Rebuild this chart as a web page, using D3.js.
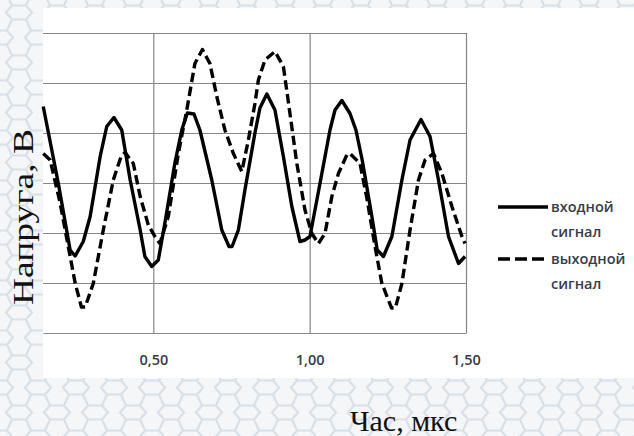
<!DOCTYPE html>
<html>
<head>
<meta charset="utf-8">
<script src="https://cdn.jsdelivr.net/npm/d3@7"></script>
<style>
  html, body { margin: 0; padding: 0; background: #fff; }
  svg { display: block; }
</style>
</head>
<body>
<svg id="chart" width="634" height="436"></svg>
<script>
// Input signal (входной сигнал): time, µs and voltage, V
const timeIn = [0.148, 0.196, 0.234, 0.250, 0.276, 0.298, 0.330, 0.351, 0.374, 0.399,
  0.426, 0.458, 0.473, 0.495, 0.516, 0.537, 0.569, 0.591, 0.609, 0.630,
  0.649, 0.687, 0.719, 0.742, 0.752, 0.772, 0.793, 0.825, 0.841, 0.863,
  0.889, 0.916, 0.943, 0.969, 0.985, 1.001, 1.033, 1.065, 1.081, 1.103,
  1.129, 1.148, 1.168, 1.199, 1.216, 1.236, 1.263, 1.295, 1.321, 1.356,
  1.385, 1.412, 1.444, 1.476, 1.497];
const voltIn = [1.53, 0.00, -1.34, -1.46, -1.17, -0.67, 0.53, 1.13, 1.31, 1.06,
  0.06, -0.94, -1.47, -1.67, -1.54, -0.80, 0.40, 1.06, 1.40, 1.38,
  1.06, 0.06, -0.94, -1.27, -1.27, -0.94, -0.14, 1.00, 1.50, 1.78,
  1.46, 0.53, -0.47, -1.17, -1.14, -1.07, -0.01, 1.06, 1.46, 1.65,
  1.39, 1.06, 0.46, -0.67, -1.34, -1.47, -1.07, 0.06, 0.86, 1.27,
  0.93, 0.06, -1.07, -1.61, -1.47];

// Output signal (выходной сигнал)
const timeOut = [0.148, 0.170, 0.202, 0.228, 0.250, 0.270, 0.282, 0.308, 0.340, 0.372,
  0.398, 0.410, 0.436, 0.458, 0.484, 0.505, 0.521, 0.548, 0.580, 0.607,
  0.633, 0.657, 0.681, 0.703, 0.729, 0.756, 0.783, 0.804, 0.825, 0.836,
  0.857, 0.889, 0.916, 0.937, 0.959, 0.985, 1.007, 1.028, 1.049, 1.071,
  1.092, 1.119, 1.129, 1.161, 1.184, 1.209, 1.231, 1.262, 1.274, 1.295,
  1.321, 1.348, 1.369, 1.396, 1.423, 1.455, 1.487, 1.497];
const voltOut = [0.59, 0.46, -0.40, -1.27, -2.00, -2.48, -2.48, -2.01, -0.94, 0.06,
  0.55, 0.61, 0.39, -0.27, -0.84, -1.07, -1.21, -0.67, 0.59, 1.46,
  2.39, 2.67, 2.39, 1.73, 1.06, 0.59, 0.23, 0.86, 1.59, 2.06,
  2.46, 2.63, 2.33, 1.39, 0.39, -0.54, -1.01, -1.21, -1.01, -0.27,
  0.19, 0.56, 0.59, 0.39, -0.34, -1.27, -2.01, -2.50, -2.50, -2.01,
  -0.94, 0.06, 0.46, 0.59, 0.19, -0.47, -1.07, -1.21];

const xTicks = [0.5, 1.0, 1.5];
const yTicks = [-2, -1, 0, 1, 2, 3];
const seriesNames = [["входной", "сигнал"], ["выходной", "сигнал"]];
const xTitle = "Час, мкс";
const yTitle = "Напруга, В";

const svg = d3.select("#chart");
const defs = svg.append("defs");

// Decorative lattice backdrop
const tileW = 38, tileH = 50;
const pat = defs.append("pattern")
  .attr("id", "lattice")
  .attr("patternUnits", "userSpaceOnUse")
  .attr("width", tileW).attr("height", tileH);
pat.append("rect").attr("width", tileW).attr("height", tileH).attr("fill", "#f4f6f8");
const hexPath = (cx, cy) =>
  `M${cx - 13},${cy}L${cx - 7},${cy - 7}L${cx + 7},${cy - 7}L${cx + 13},${cy}` +
  `L${cx + 7},${cy + 7}L${cx - 7},${cy + 7}Z`;
let latticeD = "";
for (let r = -2; r <= 4; r++) {
  for (let c = -1; c <= 2; c++) {
    const cx = c * tileW + (r % 2 === 0 ? tileW / 2 : 0);
    const cy = r * (tileH / 2) + tileH / 4;
    latticeD += hexPath(cx, cy);
    // diagonal links to the two cells of the next row
    latticeD += `M${cx + 7},${cy + 7}L${cx + tileW / 2 - 7},${cy + tileH / 2 - 7}`;
    latticeD += `M${cx - 7},${cy + 7}L${cx - tileW / 2 + 7},${cy + tileH / 2 - 7}`;
  }
}
pat.append("path").attr("d", latticeD)
  .attr("fill", "none").attr("stroke", "#d9e0e6").attr("stroke-width", 2.2);

svg.append("rect").attr("width", 634).attr("height", 436).attr("fill", "url(#lattice)");

// White chart panel
svg.append("rect").attr("x", 43).attr("y", 8).attr("width", 591).attr("height", 370).attr("fill", "#fff");

const plot = { left: 43, right: 466, top: 33, bottom: 333 };
const x = d3.scaleLinear().domain([0.1472, 1.5]).range([plot.left, plot.right]);
const y = d3.scaleLinear().domain([-3, 3]).range([plot.bottom, plot.top]);

const gridColor = "#868686";

// Horizontal gridlines
svg.append("g")
  .attr("transform", `translate(${plot.left},0)`)
  .call(d3.axisLeft(y).tickValues(yTicks).tickSize(-(plot.right - plot.left)).tickFormat(""))
  .call(g => g.select(".domain").remove())
  .call(g => g.selectAll(".tick line").attr("stroke", gridColor).attr("stroke-width", 1.2));

// Vertical gridlines
svg.append("g")
  .attr("transform", `translate(0,${plot.bottom})`)
  .call(d3.axisBottom(x).tickValues(xTicks).tickSize(-(plot.bottom - plot.top)).tickFormat(""))
  .call(g => g.select(".domain").remove())
  .call(g => g.selectAll(".tick line").attr("stroke", gridColor).attr("stroke-width", 1.2));

// Bottom axis with labels
const fmt = d3.format(".2f");
svg.append("g")
  .attr("transform", `translate(0,${plot.bottom})`)
  .call(d3.axisBottom(x).tickValues(xTicks).tickSize(0).tickPadding(0)
    .tickFormat(d => fmt(d).replace(".", ",")))
  .call(g => g.select(".domain").attr("stroke", gridColor).attr("stroke-width", 1.2))
  .call(g => g.selectAll(".tick text")
    .attr("dy", null).attr("y", 32)
    .attr("font-family", "'Open Sans', sans-serif")
    .attr("font-size", 14.5).attr("font-weight", 600)
    .attr("fill", "#353c48"));

// Series lines
const line = d3.line().x(d => x(d[0])).y(d => y(d[1])).curve(d3.curveLinear);
const inPts = d3.zip(timeIn, voltIn);
const outPts = d3.zip(timeOut, voltOut);

svg.append("path").datum(inPts)
  .attr("d", line).attr("fill", "none")
  .attr("stroke", "#000").attr("stroke-width", 3.4)
  .attr("stroke-linejoin", "round");
svg.append("path").datum(outPts)
  .attr("d", line).attr("fill", "none")
  .attr("stroke", "#000").attr("stroke-width", 3.4)
  .attr("stroke-dasharray", "9.5,4.5")
  .attr("stroke-linejoin", "round");

// Legend
const legend = svg.append("g")
  .attr("font-family", "'Open Sans', sans-serif")
  .attr("font-size", 14.5).attr("font-weight", 600).attr("fill", "#353c48");
const legendRows = [{ ly: 207, dash: null }, { ly: 259, dash: "12,5" }];
legendRows.forEach((row, i) => {
  legend.append("line")
    .attr("x1", 498).attr("x2", 548).attr("y1", row.ly).attr("y2", row.ly)
    .attr("stroke", "#000").attr("stroke-width", 3.4)
    .attr("stroke-dasharray", row.dash);
  seriesNames[i].forEach((t, k) => {
    legend.append("text").attr("x", 551).attr("y", row.ly + 5 + k * 25).text(t);
  });
});

// Axis titles
svg.append("text")
  .attr("x", 350).attr("y", 431)
  .attr("font-family", "'Liberation Serif', 'Times New Roman', serif")
  .attr("font-size", 30).attr("fill", "#111")
  .text(xTitle);

svg.append("text")
  .attr("transform", "translate(33,217) rotate(-90)")
  .attr("text-anchor", "middle")
  .attr("font-family", "'Liberation Serif', 'Times New Roman', serif")
  .attr("font-size", 29).attr("fill", "#111")
  .attr("textLength", 176).attr("lengthAdjust", "spacingAndGlyphs")
  .text(yTitle);
</script>
</body>
</html>
